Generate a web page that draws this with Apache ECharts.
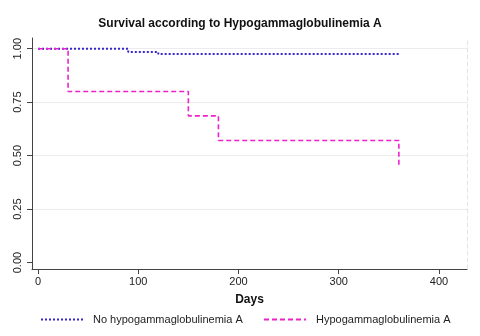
<!DOCTYPE html>
<html>
<head>
<meta charset="utf-8">
<script src="https://cdn.jsdelivr.net/npm/echarts@6/dist/echarts.min.js"></script>
<style>
  html, body { margin: 0; padding: 0; background: #fff; }
  #chart { width: 480px; height: 336px; }
</style>
</head>
<body>
<div id="chart"></div>
<script>
// Kaplan-Meier style steps (days, survival)
var noHypoDays = [0, 90, 120, 360];
var noHypoSurv = [1.0, 0.985, 0.975, 0.975];
var hypoDays = [0, 30, 150, 180, 360];
var hypoSurv = [1.0, 0.8, 0.686, 0.571, 0.457];

var xTicks = [0, 100, 200, 300, 400];
var yTicks = [0, 0.25, 0.5, 0.75, 1];
var yGrid = [0.25, 0.5, 0.75, 1];

function pairs(xs, ys) {
    return xs.map(function (x, i) { return [x, ys[i]]; });
}

var chart = echarts.init(document.getElementById('chart'));
var font = 'Liberation Sans, Arial, sans-serif';

option = {
    animation: false,
    textStyle: { fontFamily: font },
    title: {
        text: 'Survival according to Hypogammaglobulinemia A',
        left: 'center',
        top: 13,
        textStyle: { fontSize: 12, fontWeight: 'bold', color: '#111', fontFamily: font }
    },
    legend: [
        {
            left: 40, top: 314, padding: 0,
            itemWidth: 44, itemHeight: 10, itemGap: 0,
            itemStyle: { opacity: 0 },
            data: ['No hypogammaglobulinemia A'],
            textStyle: { fontSize: 11, color: '#222', padding: [0, 0, 0, 3] }
        },
        {
            left: 263, top: 314, padding: 0,
            itemWidth: 42, itemHeight: 10, itemGap: 0,
            itemStyle: { opacity: 0 },
            data: ['Hypogammaglobulinemia A'],
            textStyle: { fontSize: 11, color: '#222', padding: [0, 0, 0, 5] }
        }
    ],
    grid: { left: 32, right: 13, top: 38, bottom: 67 },
    xAxis: {
        type: 'value',
        min: -6,
        max: 428,
        name: 'Days',
        nameLocation: 'middle',
        nameGap: 25,
        nameTextStyle: { fontSize: 12, fontWeight: 'bold', color: '#111' },
        axisLine: { show: true, onZero: false, lineStyle: { color: '#444', width: 1 } },
        axisTick: { show: true, length: 5, customValues: xTicks, lineStyle: { color: '#444' } },
        axisLabel: { customValues: xTicks, fontSize: 11, color: '#222', margin: 7 },
        splitLine: { show: false }
    },
    yAxis: [
        {
            type: 'value',
            min: -0.03,
            max: 1.05,
            axisLine: { show: true, onZero: false, lineStyle: { color: '#444', width: 1 } },
            axisTick: { show: true, length: 5, customValues: yTicks, lineStyle: { color: '#444' } },
            axisLabel: {
                customValues: yTicks, fontSize: 11, color: '#222', rotate: 90, margin: 9,
                formatter: function (v) { return v.toFixed(2); }
            },
            splitLine: { show: false }
        },
        {
            type: 'value',
            position: 'right',
            min: -0.03,
            max: 1.05,
            axisLine: { show: true, onZero: false, lineStyle: { color: '#e4e4e4', width: 1, type: [4, 3] } },
            axisTick: { show: false },
            axisLabel: { show: false },
            splitLine: { show: false }
        }
    ],
    series: [
        {
            // light horizontal gridlines, drawn beneath the curves
            name: 'grid',
            type: 'line',
            data: [],
            silent: true,
            z: 0,
            markLine: {
                silent: true,
                z: 0,
                symbol: 'none',
                label: { show: false },
                lineStyle: { color: '#ececec', width: 1, type: 'solid' },
                data: yGrid.map(function (v) { return { yAxis: v }; })
            }
        },
        {
            name: 'No hypogammaglobulinemia A',
            type: 'line',
            step: 'end',
            symbol: 'none',
            data: pairs(noHypoDays, noHypoSurv),
            lineStyle: { color: '#3528d0', width: 2, type: [2, 2] },
            itemStyle: { color: '#3528d0' },
            z: 2
        },
        {
            name: 'Hypogammaglobulinemia A',
            type: 'line',
            step: 'end',
            symbol: 'none',
            data: pairs(hypoDays, hypoSurv),
            lineStyle: { color: '#ee22cc', width: 1.6, type: [5, 3] },
            itemStyle: { color: '#ee22cc' },
            z: 3
        }
    ]
};

chart.setOption(option);
</script>
</body>
</html>
